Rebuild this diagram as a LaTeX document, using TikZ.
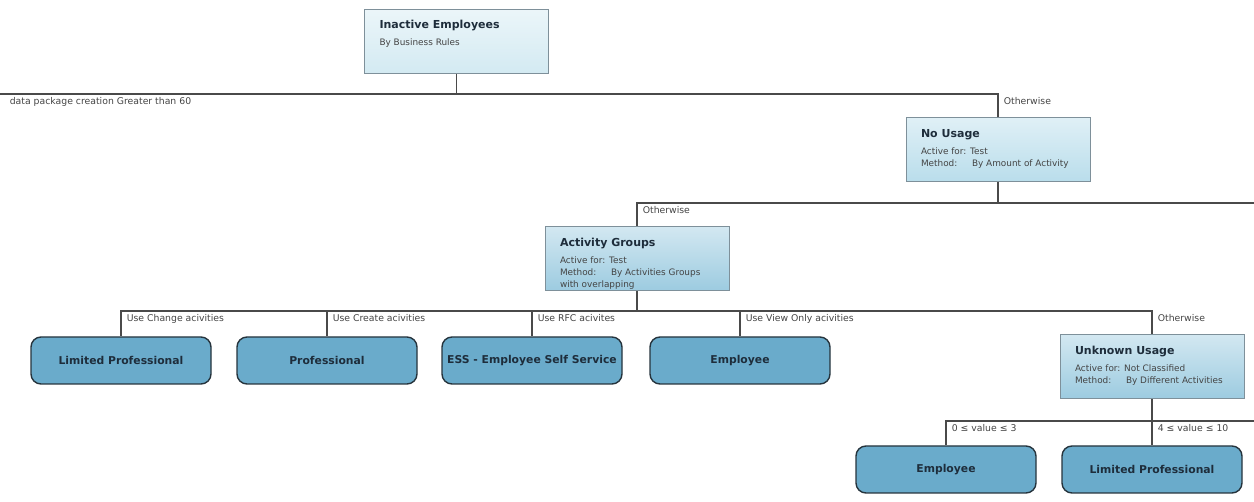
\documentclass[tikz,border=0pt]{standalone}
\usepackage{fontspec}
\setmainfont{DejaVu Sans}
\usepackage{xcolor}
\usepackage{tikz}
\usetikzlibrary{positioning}

\definecolor{linkgray}{HTML}{4A4A4A}
\definecolor{boxedge}{HTML}{7E909A}
\definecolor{leafedge}{HTML}{26343D}
\definecolor{leaffill}{HTML}{6AABCB}
\definecolor{titletext}{HTML}{1E2D3B}
\definecolor{smalltext}{HTML}{444444}
\definecolor{BoxBlue}{HTML}{B9DDEB}
\definecolor{PaleBlue}{HTML}{D3EAF2}
\definecolor{DeepBlue}{HTML}{9CCBE0}

\newcommand{\boxlines}[2]{\parbox[c][44pt][t]{154pt}{\fontsize{8.9}{12}\selectfont
  \vspace*{1pt}{\fontsize{11}{12}\selectfont\bfseries\color{titletext}#1}\\[5pt]{\color{smalltext}#2}}}
\newcommand{\method}[1]{\makebox[51pt][l]{Method:}#1}

\tikzset{
  info/.style={draw=boxedge, line width=1pt, inner xsep=15pt, inner ysep=10pt,
    top color=#1!45!white, bottom color=#1},
  info/.default={BoxBlue},
  leaf/.style={draw=leafedge, line width=1.4pt, rounded corners=10pt, fill=leaffill,
    minimum width=180pt, minimum height=47pt, text=titletext,
    font=\bfseries\fontsize{10.8}{12}\selectfont},
  link/.style={draw=linkgray, line width=1.6pt},
  lbl/.style={anchor=north west, inner sep=3pt, text=smalltext,
    font=\fontsize{9.3}{10}\selectfont},
}

\begin{document}
\begin{tikzpicture}[x=1pt, y=-1pt]
    \useasboundingbox (0,0) rectangle (1254,502);

    % Nodes
    \node[info=PaleBlue] (root) at (456.5,41.5) {\boxlines{Inactive Employees}{By Business Rules}};
    \node[info=BoxBlue] (nousage) at (998,150) {\boxlines{No Usage}{Active for: Test\\\method{By Amount of Activity}}};
    \node[info=DeepBlue] (groups) at (637,259) {\boxlines{Activity Groups}{Active for: Test\\\method{By Activities Groups}\\with overlapping}};
    \node[info=DeepBlue] (unknown) at (1152,367) {\boxlines{Unknown Usage}{Active for: Not Classified\\\method{By Different Activities}}};

    \node[leaf] (limited) at (121,360.5) {Limited Professional};
    \node[leaf] (prof) at (327,360.5) {Professional};
    \node[leaf] (ess) at (532,360.5) {ESS - Employee Self Service};
    \node[leaf] (employee) at (740,360.5) {Employee};
    \node[leaf] (employeeb) at (946,469.5) {Employee};
    \node[leaf] (limitedb) at (1152,469.5) {Limited Professional};

    % Junctions
    \coordinate (rootsplit) at (456.5,94);
    \coordinate (leftend) at (0,94);
    \coordinate (usagesplit) at (998,203);
    \coordinate (rightend) at (1254,203);
    \coordinate (groupsplit) at (637,311);
    \coordinate (unknownsplit) at (1152,421);
    \coordinate (rightendb) at (1254,421);

    % Edges
    \draw[link] (root) -- (rootsplit);
    \draw[link] (rootsplit) -- (leftend) node[lbl, pos=1, xshift=6pt] {data package creation Greater than 60};
    \draw[link] (rootsplit) -| (nousage) node[lbl, pos=0.5, xshift=2pt] {Otherwise};

    \draw[link] (nousage) -- (usagesplit);
    \draw[link] (usagesplit) -- (rightend);
    \draw[link] (usagesplit) -| (groups) node[lbl, pos=0.5, xshift=2pt] {Otherwise};

    \draw[link] (groups) -- (groupsplit);
    \draw[link] (groupsplit) -| (limited) node[lbl, pos=0.5, xshift=2pt] {Use Change acivities};
    \draw[link] (groupsplit) -| (prof) node[lbl, pos=0.5, xshift=2pt] {Use Create acivities};
    \draw[link] (groupsplit) -| (ess) node[lbl, pos=0.5, xshift=2pt] {Use RFC acivites};
    \draw[link] (groupsplit) -| (employee) node[lbl, pos=0.5, xshift=2pt] {Use View Only acivities};
    \draw[link] (groupsplit) -| (unknown) node[lbl, pos=0.5, xshift=2pt] {Otherwise};

    \draw[link] (unknown) -- (unknownsplit);
    \draw[link] (unknownsplit) -- (rightendb);
    \draw[link] (unknownsplit) -| (employeeb) node[lbl, pos=0.5, xshift=2pt] {0 ≤ value ≤ 3};
    \draw[link] (unknownsplit) -- (limitedb) node[lbl, pos=0, xshift=2pt] {4 ≤ value ≤ 10};
\end{tikzpicture}
\end{document}
